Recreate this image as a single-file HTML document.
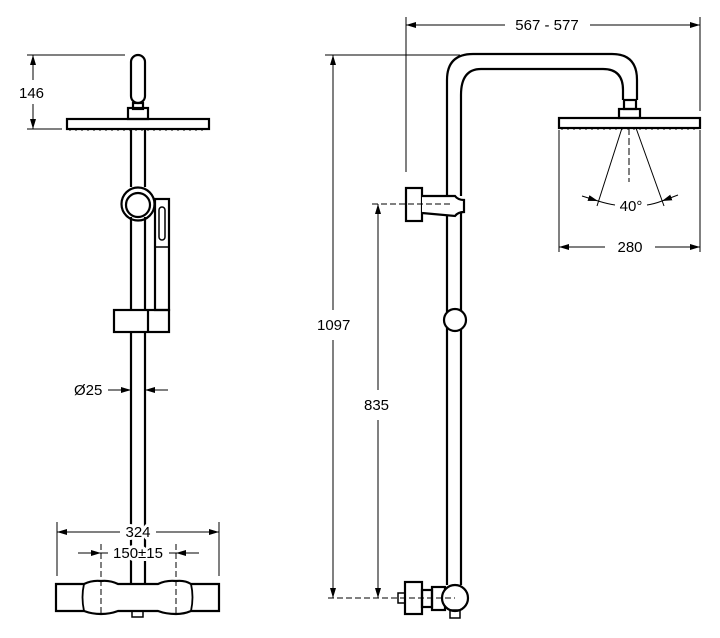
<!DOCTYPE html>
<html><head><meta charset="utf-8"><style>
html,body{margin:0;padding:0;background:#fff}
svg{display:block}
text{font-family:"Liberation Sans",sans-serif;font-size:15px;fill:#000;stroke:#fff;stroke-width:6px;paint-order:stroke;stroke-linejoin:round}
</style></head><body>
<svg width="720" height="638" viewBox="0 0 720 638" xmlns="http://www.w3.org/2000/svg">
<defs>
<marker id="a" viewBox="0 0 10 6" refX="10" refY="3" markerWidth="10" markerHeight="6" orient="auto-start-reverse" markerUnits="userSpaceOnUse"><path d="M0,0 L10,3 L0,6 z" fill="#000"/></marker>
</defs>
<g fill="none" stroke="#000" stroke-width="2.2">
<!-- LEFT VIEW -->
<rect x="131" y="55" width="14" height="48" rx="7"/>
<rect x="133" y="103" width="10" height="6"/>
<rect x="128" y="108" width="20" height="11"/>
<rect x="67" y="119" width="142" height="10"/>
<line x1="131" y1="129" x2="131" y2="187"/><line x1="145" y1="129" x2="145" y2="187"/>
<circle cx="138" cy="204" r="16.5" fill="#fff"/>
<circle cx="138" cy="205" r="12"/>
<line x1="131" y1="217" x2="131" y2="310"/><line x1="145" y1="217" x2="145" y2="310"/>
<rect x="155" y="199" width="14" height="111"/>
<rect x="159" y="207" width="6" height="33" rx="3" stroke-width="1.5"/>
<line x1="155" y1="247" x2="169" y2="247" stroke-width="1.5"/>
<rect x="114" y="310" width="55" height="22"/>
<line x1="148" y1="310" x2="148" y2="332"/>
<line x1="131" y1="332" x2="131" y2="584"/><line x1="145" y1="332" x2="145" y2="584"/>
<path d="M56,584 L84,584 Q92,580 101,581 Q110,580 118,584 L158,584 Q166,580 176,581 Q185,580 191,584 L219,584 L219,611 L191,611 Q184,614 176,614 Q166,614 158,611 L118,611 Q110,614 101,614 Q92,614 84,611 L56,611 Z" fill="#fff"/>
<path d="M84,584 Q81,597 84,611 M191,584 Q194,597 191,611" stroke-width="1.8"/>
<rect x="132" y="611" width="11" height="6" stroke-width="1.5"/>
<!-- RIGHT VIEW -->
<path d="M447,585 L447,80 Q447,54 473,54 L612,54 Q637,54 637,80 L637,100"/>
<path d="M461,196 L461,95 Q461,69 481,69 L603,69 Q623,69 623,90 L623,100"/>
<line x1="461" y1="213" x2="461" y2="585"/>
<rect x="624" y="100" width="12" height="9"/>
<rect x="619" y="109" width="21" height="9"/>
<rect x="559" y="118" width="141" height="10"/>
<rect x="406" y="188" width="16" height="33" fill="#fff"/>
<path d="M422,196 L455,196 Q458,200 464,200 L464,212 Q458,212 455,216 L422,213" fill="#fff"/>
<circle cx="455" cy="320" r="11" fill="#fff"/>
<rect x="405" y="582" width="17" height="32" fill="#fff"/>
<rect x="398" y="593" width="7" height="10" stroke-width="1.5"/>
<rect x="422" y="590" width="10" height="17"/>
<rect x="432" y="587" width="13" height="23"/>
<circle cx="455" cy="598" r="13" fill="#fff"/>
<rect x="450" y="610" width="10" height="8" stroke-width="1.5"/>
</g>
<g fill="none" stroke="#000" stroke-width="1">
<line x1="69" y1="130" x2="207" y2="130" stroke-dasharray="2 4"/>
<line x1="561" y1="129" x2="698" y2="129" stroke-dasharray="2 4"/>
<line x1="27" y1="55" x2="125" y2="55"/><line x1="27" y1="129" x2="62" y2="129"/>
<line x1="33" y1="80" x2="33" y2="55" marker-end="url(#a)"/><line x1="33" y1="104" x2="33" y2="129" marker-end="url(#a)"/>
<line x1="108" y1="390" x2="131" y2="390" marker-end="url(#a)"/>
<line x1="168" y1="390" x2="145" y2="390" marker-end="url(#a)"/>
<line x1="57" y1="522" x2="57" y2="576"/><line x1="219" y1="522" x2="219" y2="576"/>
<line x1="57" y1="532" x2="120" y2="532" marker-start="url(#a)"/><line x1="156" y1="532" x2="219" y2="532" marker-end="url(#a)"/>
<line x1="101" y1="544" x2="101" y2="614" stroke-dasharray="6 3"/><line x1="176" y1="544" x2="176" y2="614" stroke-dasharray="6 3"/>
<line x1="78" y1="553" x2="101" y2="553" marker-end="url(#a)"/><line x1="101" y1="553" x2="108" y2="553"/>
<line x1="199" y1="553" x2="176" y2="553" marker-end="url(#a)"/><line x1="176" y1="553" x2="169" y2="553"/>
<line x1="406" y1="17" x2="406" y2="172"/><line x1="700" y1="17" x2="700" y2="111"/>
<line x1="406" y1="25" x2="505" y2="25" marker-start="url(#a)"/><line x1="590" y1="25" x2="700" y2="25" marker-end="url(#a)"/>
<line x1="325" y1="55" x2="460" y2="55"/>
<line x1="333" y1="310" x2="333" y2="55" marker-end="url(#a)"/>
<line x1="333" y1="340" x2="333" y2="598" marker-end="url(#a)"/>
<line x1="372" y1="204" x2="450" y2="204" stroke-dasharray="6 3"/>
<line x1="378" y1="390" x2="378" y2="204" marker-end="url(#a)"/>
<line x1="378" y1="420" x2="378" y2="598" marker-end="url(#a)"/>
<line x1="328" y1="598" x2="455" y2="598" stroke-dasharray="6 3"/>
<line x1="622" y1="128" x2="597" y2="206"/><line x1="636" y1="128" x2="664" y2="206"/>
<line x1="629" y1="128" x2="629" y2="182" stroke-dasharray="7 3"/>
<path d="M582,196 L598,201" marker-end="url(#a)"/><path d="M598,201 Q608,204 615,205"/>
<path d="M678,195 L662,201" marker-end="url(#a)"/><path d="M662,201 Q654,204 647,205"/>
<line x1="559" y1="130" x2="559" y2="252"/><line x1="700" y1="130" x2="700" y2="252"/>
<line x1="559" y1="247" x2="605" y2="247" marker-start="url(#a)"/><line x1="655" y1="247" x2="700" y2="247" marker-end="url(#a)"/>
</g>
<text x="19" y="98">146</text>
<text x="74" y="395">Ø25</text>
<text x="138" y="537" text-anchor="middle">324</text>
<text x="138" y="558" text-anchor="middle">150±15</text>
<text x="547" y="30" text-anchor="middle">567 - 577</text>
<text x="317" y="330">1097</text>
<text x="364" y="410">835</text>
<text x="631" y="211" text-anchor="middle">40°</text>
<text x="630" y="252" text-anchor="middle">280</text>
</svg>
</body></html>
